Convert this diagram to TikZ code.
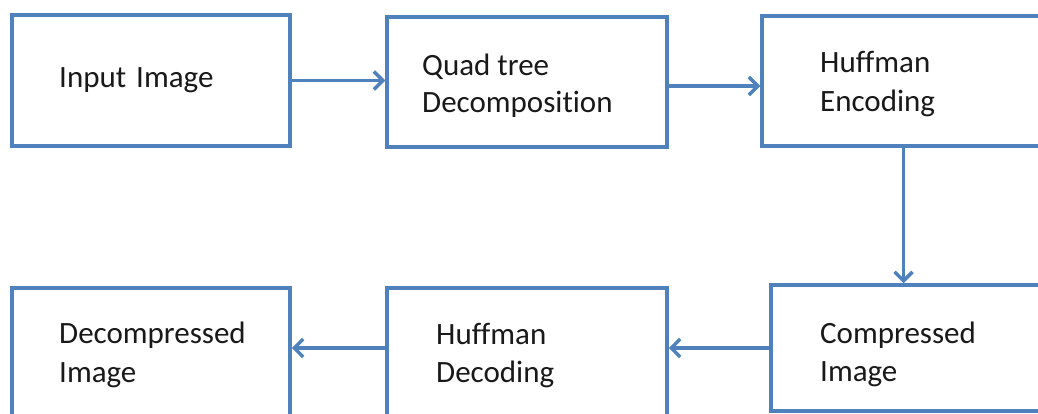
\documentclass[tikz,border=0pt]{standalone}
\usepackage{fontspec}
\setmainfont[Ligatures={NoCommon}]{Carlito}
\usetikzlibrary{arrows.meta}
\definecolor{boxblue}{HTML}{4F81BD}
\begin{document}
\begin{tikzpicture}[x=1pt,y=-1pt,
  blk/.style={draw=boxblue,line width=3.5pt,inner sep=0pt},
  txt/.style={anchor=base west,inner sep=0pt,font=\fontsize{31}{38}\selectfont,text=black!90},
  conn/.style={draw=boxblue,line width=3.5pt,-{Straight Barb[length=9pt,width=18pt,line width=3.5pt]}}]
\useasboundingbox (0,0) rectangle (1038,414);
\fill[white] (0,0) rectangle (1038,414);
% boxes
\node[blk,minimum width=278pt,minimum height=131pt] (in) at (151,80.5) {};
\node[blk,minimum width=280pt,minimum height=130pt] (qt) at (527,82) {};
\node[blk,minimum width=283pt,minimum height=130pt] (enc) at (903.5,81) {};
\node[blk,minimum width=274pt,minimum height=126pt] (cmp) at (908,348) {};
\node[blk,minimum width=280pt,minimum height=132pt] (dec) at (527,354) {};
\node[blk,minimum width=278pt,minimum height=132pt] (dcm) at (151,354) {};
% texts
\node[txt] (tin) at (59,88) {Input\hspace{10pt}Image};
\node[txt] (tqt1) at (422,76) {Quad tree};
\node[txt] (tqt2) at (422,113) {Decomposition};
\node[txt] (tenc1) at (820,73) {Huffman};
\node[txt] (tenc2) at (820,112) {Encoding};
\node[txt] (tcmp1) at (820,343) {Compressed};
\node[txt] (tcmp2) at (820,381) {Image};
\node[txt] (tdec1) at (436,344) {Huffman};
\node[txt] (tdec2) at (436,382) {Decoding};
\node[txt] (tdcm1) at (59,343) {Decompressed};
\node[txt] (tdcm2) at (59,382) {Image};
% connectors
\draw[conn] (in.east) -- (in.east -| qt.west);
\draw[conn] ([yshift=-4pt]qt.east) -- ([yshift=-4pt]qt.east -| enc.west);
\draw[conn] (enc.south) -- (enc.south |- cmp.north);
\draw[conn] (cmp.west) -- (cmp.west -| dec.east);
\draw[conn] (dec.west |- cmp.west) -- (cmp.west -| dcm.east);
\end{tikzpicture}
\end{document}
